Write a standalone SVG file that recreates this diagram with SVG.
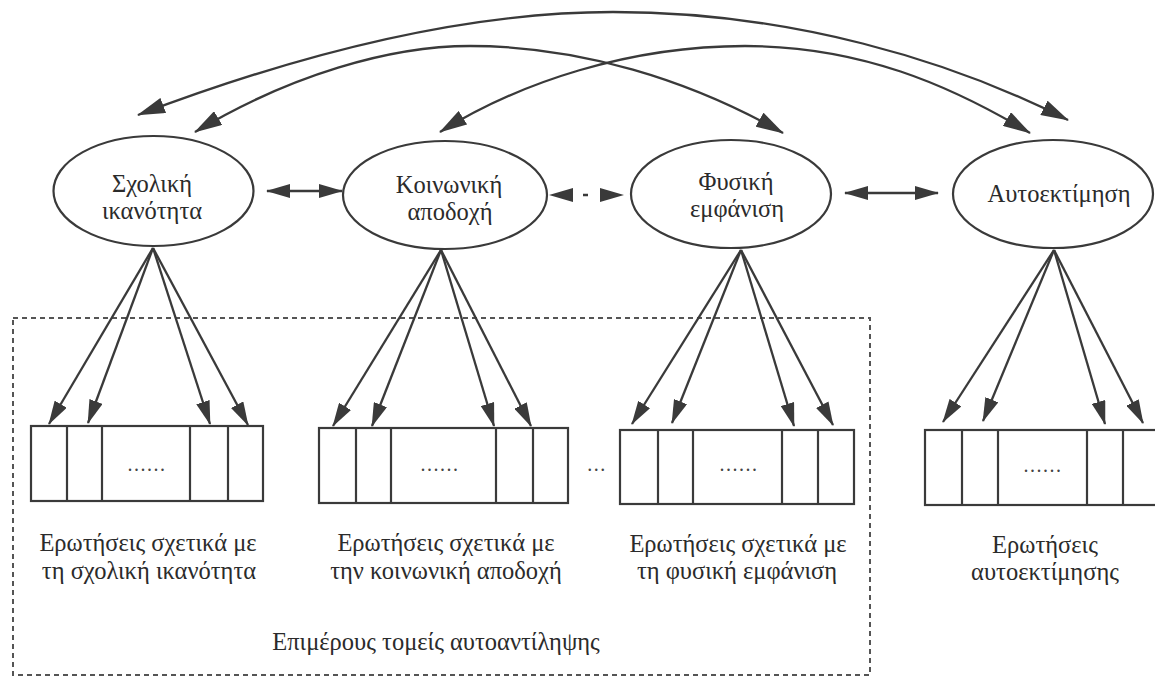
<svg xmlns="http://www.w3.org/2000/svg" width="1155" height="681" viewBox="0 0 1155 681">
  <style>
    .ell { fill: none; stroke: #3a3a3a; stroke-width: 2.2; }
    .box { fill: none; stroke: #3a3a3a; stroke-width: 2.2; }
    .div { stroke: #3a3a3a; stroke-width: 2.2; }
    .lbl { font-family: "Liberation Serif", "Noto Serif", "DejaVu Serif", serif; font-size: 24.5px; fill: #2b2b2b; text-anchor: middle; }
    .dots { font-family: "Liberation Serif", "DejaVu Serif", serif; font-size: 20px; fill: #444; text-anchor: middle; letter-spacing: 1.5px; }
    .con { fill: none; stroke: #3a3a3a; stroke-width: 2.3; }
    .curve { marker-start: url(#big); marker-end: url(#big); }
    .load { marker-end: url(#sm); }
    .dbl { marker-start: url(#sm); marker-end: url(#sm); }
    .frame { fill: none; stroke: #555; stroke-width: 2; stroke-dasharray: 5 4; }
  </style>
  <defs>
    <marker id="big" viewBox="0 0 28 16" refX="27" refY="8" markerWidth="28" markerHeight="16" markerUnits="userSpaceOnUse" orient="auto-start-reverse">
      <path d="M0,0 L28,8 L0,16 z" fill="#3a3a3a"/>
    </marker>
    <marker id="sm" viewBox="0 0 24 14" refX="23" refY="7" markerWidth="24" markerHeight="14" markerUnits="userSpaceOnUse" orient="auto-start-reverse">
      <path d="M0,0 L24,7 L0,14 z" fill="#3a3a3a"/>
    </marker>
  </defs>
  <rect width="1155" height="681" fill="#ffffff"/>

  <!-- dashed frame: sub-domains of self-concept -->
  <g id="frame">
    <rect class="frame" x="13" y="318" width="857" height="357"/>
    <text class="lbl" x="436" y="650">Επιμέρους τομείς αυτοαντίληψης</text>
  </g>

  <!-- latent factors -->
  <g id="node-sxoliki">
    <ellipse class="ell" cx="153.5" cy="191" rx="100" ry="55"/>
    <text class="lbl" x="152" y="192">Σχολική</text>
    <text class="lbl" x="152" y="219">ικανότητα</text>
  </g>
  <g id="node-koinoniki">
    <ellipse class="ell" cx="445" cy="195" rx="102" ry="54"/>
    <text class="lbl" x="449" y="193">Κοινωνική</text>
    <text class="lbl" x="450" y="220">αποδοχή</text>
  </g>
  <g id="node-fysiki">
    <ellipse class="ell" cx="731" cy="194" rx="100" ry="54"/>
    <text class="lbl" x="736" y="190">Φυσική</text>
    <text class="lbl" x="737" y="217">εμφάνιση</text>
  </g>
  <g id="node-aftoektimisi">
    <ellipse class="ell" cx="1053" cy="194" rx="100" ry="54"/>
    <text class="lbl" x="1059" y="202">Αυτοεκτίμηση</text>
  </g>

  <!-- item boxes -->
  <g id="items-sxoliki">
    <rect class="box" x="31" y="426" width="232" height="75"/>
    <line class="div" x1="67" y1="426" x2="67" y2="501"/>
    <line class="div" x1="102" y1="426" x2="102" y2="501"/>
    <line class="div" x1="190" y1="426" x2="190" y2="501"/>
    <line class="div" x1="228" y1="426" x2="228" y2="501"/>
    <text class="dots" x="147" y="471">......</text>
    <text class="lbl" x="148" y="551">Ερωτήσεις σχετικά με</text>
    <text class="lbl" x="149" y="579">τη σχολική ικανότητα</text>
  </g>
  <g id="items-koinoniki">
    <rect class="box" x="319" y="428" width="249" height="75"/>
    <line class="div" x1="356" y1="428" x2="356" y2="503"/>
    <line class="div" x1="391" y1="428" x2="391" y2="503"/>
    <line class="div" x1="496" y1="428" x2="496" y2="503"/>
    <line class="div" x1="533" y1="428" x2="533" y2="503"/>
    <text class="dots" x="440" y="471">......</text>
    <text class="lbl" x="446" y="551">Ερωτήσεις σχετικά με</text>
    <text class="lbl" x="446" y="579">την κοινωνική αποδοχή</text>
  </g>
  <g id="items-more">
    <text class="dots" x="597" y="471">...</text>
  </g>
  <g id="items-fysiki">
    <rect class="box" x="620" y="430" width="234" height="74"/>
    <line class="div" x1="658" y1="430" x2="658" y2="504"/>
    <line class="div" x1="693" y1="430" x2="693" y2="504"/>
    <line class="div" x1="782" y1="430" x2="782" y2="504"/>
    <line class="div" x1="818" y1="430" x2="818" y2="504"/>
    <text class="dots" x="739" y="471">......</text>
    <text class="lbl" x="738" y="552">Ερωτήσεις σχετικά με</text>
    <text class="lbl" x="737" y="579">τη φυσική εμφάνιση</text>
  </g>
  <g id="items-aftoektimisi">
    <rect class="box" x="925" y="430" width="234" height="75"/>
    <line class="div" x1="962" y1="430" x2="962" y2="505"/>
    <line class="div" x1="998" y1="430" x2="998" y2="505"/>
    <line class="div" x1="1087" y1="430" x2="1087" y2="505"/>
    <line class="div" x1="1123" y1="430" x2="1123" y2="505"/>
    <text class="dots" x="1043" y="472">......</text>
    <text class="lbl" x="1045" y="553">Ερωτήσεις</text>
    <text class="lbl" x="1045" y="580">αυτοεκτίμησης</text>
  </g>

  <!-- connectors -->
  <g id="connectors">
    <!-- correlations (curved) -->
    <path class="con curve" d="M138,115 C 325,44 480,12 613,12 C 790,12 950,60 1068,120"/>
    <path class="con curve" d="M195,132 C 290,75 390,46 470,46 C 580,46 690,80 783,133"/>
    <path class="con curve" d="M440,132 C 520,82 630,46 745,46 C 860,46 950,85 1030,133"/>
    <!-- correlations (straight) -->
    <line class="con dbl" x1="267" y1="191" x2="342" y2="191"/>
    <line class="con dbl" x1="550" y1="195" x2="623" y2="195" stroke-dasharray="0 33 5 100"/>
    <line class="con dbl" x1="845" y1="193" x2="938" y2="193"/>
    <!-- loadings -->
    <line class="con load" x1="153" y1="248" x2="49" y2="424"/>
    <line class="con load" x1="153" y1="248" x2="88" y2="423"/>
    <line class="con load" x1="153" y1="248" x2="210" y2="424"/>
    <line class="con load" x1="153" y1="248" x2="248" y2="425"/>
    <line class="con load" x1="441" y1="250" x2="333" y2="426"/>
    <line class="con load" x1="441" y1="250" x2="372" y2="426"/>
    <line class="con load" x1="441" y1="250" x2="494" y2="426"/>
    <line class="con load" x1="441" y1="250" x2="531" y2="426"/>
    <line class="con load" x1="741" y1="250" x2="632" y2="424"/>
    <line class="con load" x1="741" y1="250" x2="672" y2="423"/>
    <line class="con load" x1="741" y1="250" x2="794" y2="426"/>
    <line class="con load" x1="741" y1="250" x2="833" y2="425"/>
    <line class="con load" x1="1054" y1="250" x2="943" y2="422"/>
    <line class="con load" x1="1054" y1="250" x2="983" y2="421"/>
    <line class="con load" x1="1054" y1="250" x2="1105" y2="424"/>
    <line class="con load" x1="1054" y1="250" x2="1143" y2="423"/>
  </g>
</svg>
